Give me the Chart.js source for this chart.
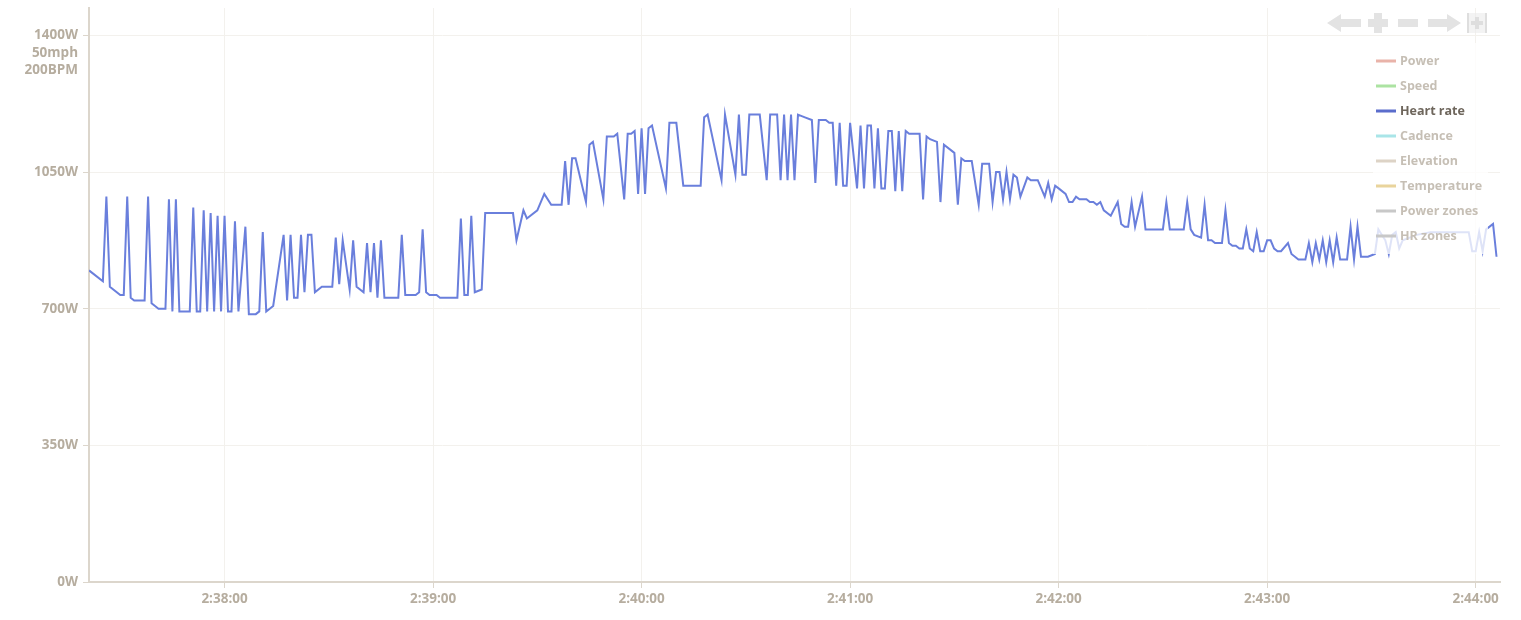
<!DOCTYPE html>
<html>
<head>
<meta charset="utf-8">
<script src="https://cdn.jsdelivr.net/npm/chart.js@4.4.1/dist/chart.umd.min.js"></script>
<style>
  html, body { margin: 0; padding: 0; background: #fff; }
  .chart-wrap { position: relative; width: 1521px; height: 620px; }
</style>
</head>
<body>
<div class="chart-wrap"><canvas id="chart"></canvas></div>
<script>
// ===== Ride chart: heart rate over time =====
const startTime = 9441; // 2:37:21, seconds of day

// seconds since start
const offsets = [
  0, 4, 5, 6, 9, 10, 11, 12, 13, 14, 16, 17, 18, 19, 20, 22, 23, 24, 25, 26,
  29, 30, 31, 32, 33, 34, 35, 36, 37, 38, 39, 40, 41, 42, 43, 45, 46, 48, 49, 50,
  51, 52, 53, 56, 57, 58, 59, 60, 61, 62, 63, 64, 65, 67, 69, 70, 71, 72, 73, 75,
  76, 77, 79, 80, 81, 82, 83, 84, 85, 89, 90, 91, 94, 95, 96, 97, 98, 100, 101, 106,
  107, 108, 109, 110, 111, 113, 114, 118, 119, 122, 123, 125, 126, 129, 131, 133, 136, 137, 138, 139,
  140, 143, 144, 145, 148, 149, 151, 152, 154, 155, 156, 157, 158, 159, 160, 161, 162, 166, 167, 168,
  169, 171, 174, 175, 176, 177, 178, 182, 183, 186, 187, 188, 189, 190, 193, 195, 196, 198, 199, 200,
  201, 202, 203, 204, 206, 208, 209, 210, 212, 213, 214, 215, 216, 217, 218, 219, 221, 222, 223, 224,
  225, 226, 227, 228, 229, 230, 231, 232, 233, 234, 235, 236, 239, 240, 241, 242, 244, 245, 246, 249,
  250, 251, 252, 254, 256, 257, 259, 260, 261, 262, 263, 264, 265, 266, 267, 268, 270, 271, 273, 275,
  276, 277, 278, 279, 281, 282, 283, 284, 285, 287, 288, 289, 290, 291, 292, 294, 296, 297, 298, 299,
  300, 301, 303, 304, 309, 310, 311, 315, 316, 317, 318, 320, 321, 322, 323, 324, 325, 326, 327, 328,
  329, 330, 331, 332, 333, 334, 335, 336, 337, 338, 339, 340, 341, 342, 343, 345, 346, 348, 350, 351,
  352, 353, 354, 355, 356, 357, 358, 359, 360, 361, 362, 363, 364, 365, 366, 368, 370, 371, 373, 374,
  375, 376, 377, 378, 380, 382, 386, 389, 393, 397, 398, 399, 400, 401, 402, 404, 405
];

// beats per minute
const heartRate = [
  114, 110, 141, 108, 105, 105, 141, 104, 103, 103, 103, 141, 102, 101, 100, 100, 140, 99, 140, 99,
  99, 137, 99, 99, 136, 99, 135, 99, 134, 99, 134, 99, 99, 132, 99, 130, 98, 98, 99, 128,
  99, 100, 101, 127, 103, 127, 104, 104, 127, 106, 127, 127, 106, 108, 108, 108, 126, 109, 125, 107,
  125, 108, 106, 124, 106, 124, 104, 125, 104, 104, 127, 105, 105, 106, 129, 106, 105, 105, 104, 104,
  133, 105, 105, 134, 106, 107, 135, 135, 135, 135, 125, 136, 133, 136, 142, 138, 138, 154, 138, 155,
  155, 139, 160, 161, 140, 163, 163, 164, 140, 164, 164, 165, 142, 166, 142, 166, 167, 144, 168, 168,
  168, 145, 145, 145, 145, 170, 171, 147, 171, 149, 171, 149, 149, 171, 171, 147, 171, 171, 147, 171,
  147, 171, 147, 171, 170, 169, 146, 169, 169, 168, 168, 145, 168, 145, 145, 168, 144, 167, 144, 167,
  167, 144, 166, 144, 144, 165, 165, 143, 165, 143, 165, 164, 164, 140, 163, 162, 161, 139, 160, 157,
  138, 155, 154, 154, 138, 153, 153, 139, 150, 150, 140, 150, 140, 149, 148, 141, 148, 147, 147, 141,
  146, 140, 145, 144, 142, 139, 139, 141, 140, 140, 139, 139, 138, 139, 136, 134, 139, 131, 130, 130,
  139, 130, 141, 129, 129, 139, 129, 129, 139, 129, 127, 126, 138, 125, 125, 124, 124, 124, 136, 124,
  123, 123, 122, 122, 129, 122, 121, 128, 121, 121, 125, 125, 122, 121, 121, 124, 120, 118, 118, 124,
  117, 124, 118, 125, 117, 125, 117, 126, 118, 118, 118, 130, 118, 130, 119, 119, 120, 129, 125, 120,
  127, 128, 122, 125, 126, 127, 128, 128, 128, 128, 121, 121, 128, 121, 129, 131, 119
];

const xTickTimes = [9480, 9540, 9600, 9660, 9720, 9780, 9840];
const yTickValues = [0, 50, 100, 150, 200];
const yTickLabels = ['0W', '350W', '700W', '1050W', '1400W'];
const topTickExtra = ['50mph', '200BPM'];

const legendLabels = ['Power', 'Speed', 'Heart rate', 'Cadence', 'Elevation',
  'Temperature', 'Power zones', 'HR zones'];
const legendColors = ['#e9b3a9', '#ace3a2', '#5b6dcc', '#a9e5e8', '#ddd3c6',
  '#e9d49c', '#c8c8c8', '#c8c8c8'];
const activeSeries = 'Heart rate';

(() => {
  const canvas = document.getElementById('chart');
  if (!canvas || typeof Chart === 'undefined') return;

  const FONT = '"Open Sans", "Segoe UI", sans-serif';
  const TICK_COLOR = '#b6ad9f';
  const AXIS_COLOR = '#dcd6cc';

  const fmtTime = (s) => {
    const h = Math.floor(s / 3600);
    const m = Math.floor((s % 3600) / 60);
    const sec = Math.round(s % 60);
    return `${h}:${String(m).padStart(2, '0')}:${String(sec).padStart(2, '0')}`;
  };

  const datasets = legendLabels.map((label, i) => {
    const isActive = label === activeSeries;
    return {
      label,
      data: isActive ? offsets.map((o, k) => ({ x: startTime + o, y: heartRate[k] })) : [],
      borderColor: isActive ? '#6a7fdc' : legendColors[i],
      borderWidth: 2,
      pointRadius: 0,
      tension: 0,
      hidden: !isActive,
    };
  });

  // extra unit lines under the top tick ("50mph", "200BPM")
  const unitLinesPlugin = {
    id: 'unitLines',
    afterDraw(chart) {
      const { ctx, scales: { y } } = chart;
      const top = y.getPixelForValue(200);
      ctx.save();
      ctx.font = `bold 13.5px ${FONT}`;
      ctx.fillStyle = TICK_COLOR;
      ctx.textAlign = 'right';
      ctx.textBaseline = 'middle';
      topTickExtra.forEach((t, i) => ctx.fillText(t, y.right - 11, top + 17.5 * (i + 1)));
      ctx.restore();
    },
  };

  // zoom/pan buttons + legend box in the top right corner
  const overlayPlugin = {
    id: 'overlay',
    afterDraw(chart) {
      const { ctx, chartArea: area } = chart;
      const R = area.right;
      const cy = area.top + 15;

      ctx.save();
      ctx.fillStyle = '#e3e3e3';
      // left arrow
      ctx.beginPath();
      ctx.moveTo(R - 173, cy);
      ctx.lineTo(R - 159, cy - 9);
      ctx.lineTo(R - 159, cy - 4);
      ctx.lineTo(R - 139, cy - 4);
      ctx.lineTo(R - 139, cy + 4);
      ctx.lineTo(R - 159, cy + 4);
      ctx.lineTo(R - 159, cy + 9);
      ctx.closePath();
      ctx.fill();
      // plus
      ctx.fillRect(R - 132, cy - 4, 20, 8);
      ctx.fillRect(R - 126, cy - 10, 8, 20);
      // minus
      ctx.fillRect(R - 102, cy - 4, 20, 8);
      // right arrow
      ctx.beginPath();
      ctx.moveTo(R - 39, cy);
      ctx.lineTo(R - 53, cy - 9);
      ctx.lineTo(R - 53, cy - 4);
      ctx.lineTo(R - 72, cy - 4);
      ctx.lineTo(R - 72, cy + 4);
      ctx.lineTo(R - 53, cy + 4);
      ctx.lineTo(R - 53, cy + 9);
      ctx.closePath();
      ctx.fill();
      // reset box
      ctx.fillStyle = 'rgba(235,235,235,0.6)';
      ctx.fillRect(R - 33, cy - 10, 20, 20);
      ctx.fillStyle = '#dedede';
      ctx.fillRect(R - 33, cy - 10, 2, 20);
      ctx.fillRect(R - 15, cy - 10, 2, 20);
      ctx.fillRect(R - 29, cy - 2, 12, 4);
      ctx.fillRect(R - 25, cy - 6, 4, 12);

      // legend
      const lx = R - 127;
      const ly = area.top + 35;
      ctx.fillStyle = 'rgba(255,255,255,0.78)';
      ctx.fillRect(lx, ly, 115, 211);
      ctx.font = `bold 12.5px ${FONT}`;
      ctx.textAlign = 'left';
      ctx.textBaseline = 'middle';
      legendLabels.forEach((label, i) => {
        const yy = ly + 18 + i * 25;
        ctx.fillStyle = legendColors[i];
        ctx.fillRect(lx + 3, yy - 1.5, 20, 3);
        ctx.fillStyle = label === activeSeries ? '#6e665c' : '#c6bfb5';
        ctx.fillText(label, lx + 27, yy);
      });
      ctx.restore();
    },
  };

  new Chart(canvas.getContext('2d'), {
    type: 'line',
    data: { datasets },
    options: {
      responsive: true,
      maintainAspectRatio: false,
      animation: false,
      layout: { padding: { top: 8, right: 21, left: 0, bottom: 0 } },
      scales: {
        x: {
          type: 'linear',
          min: 9441,
          max: 9847,
          afterBuildTicks: (s) => { s.ticks = xTickTimes.map((v) => ({ value: v })); },
          afterFit: (s) => { s.height = 38; },
          grid: { color: '#f3f1ed', tickColor: AXIS_COLOR, tickLength: 6, lineWidth: 1 },
          border: { color: AXIS_COLOR, width: 2 },
          ticks: {
            autoSkip: false,
            maxRotation: 0,
            padding: 3,
            color: TICK_COLOR,
            font: { family: FONT, size: 13.5, weight: 'bold' },
            callback: (v) => fmtTime(v),
          },
        },
        y: {
          min: 0,
          max: 210,
          afterBuildTicks: (s) => { s.ticks = yTickValues.map((v) => ({ value: v })); },
          afterFit: (s) => { s.width = 89; s.paddingTop = 0; s.paddingBottom = 0; },
          grid: { color: '#f3f1ed', tickColor: AXIS_COLOR, tickLength: 6, lineWidth: 1 },
          border: { color: AXIS_COLOR, width: 2 },
          ticks: {
            padding: 5,
            color: TICK_COLOR,
            font: { family: FONT, size: 13.5, weight: 'bold' },
            callback: (v) => yTickLabels[yTickValues.indexOf(v)],
          },
        },
      },
      plugins: {
        legend: { display: false },
        tooltip: { enabled: false },
      },
    },
    plugins: [unitLinesPlugin, overlayPlugin],
  });
})();
</script>
</body>
</html>
